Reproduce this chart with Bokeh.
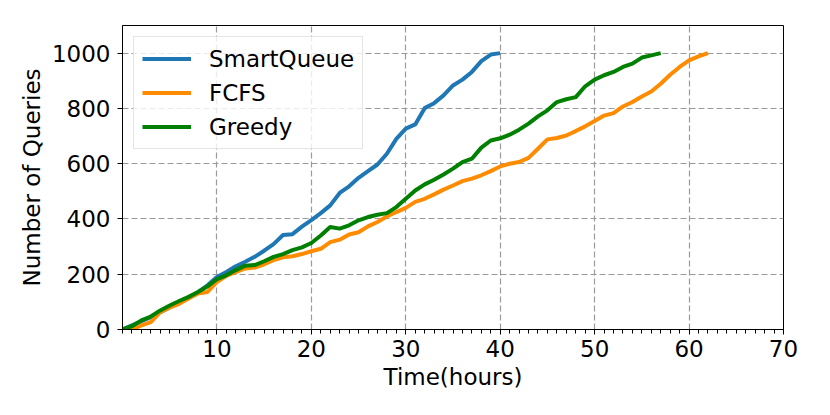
from bokeh.plotting import figure
from bokeh.models import Range1d, FixedTicker, Legend, LegendItem
from bokeh.embed import file_html
from bokeh.resources import INLINE

# ---- data ----
smart_hours = list(range(0, 41))
smart_queries = [0, 15, 30, 45, 63, 80, 100, 115, 135, 160, 190, 208, 229, 245, 263, 285, 309, 342, 345, 372,
                 396, 421, 449, 494, 518, 549, 573, 597, 636, 690, 727, 742, 801, 819, 847, 883, 904, 932, 971, 995,
                 1000]
fcfs_hours = list(range(0, 63))
fcfs_queries = [0, 0, 15, 27, 63, 79, 93, 112, 130, 136, 172, 194, 208, 221, 224, 236, 251, 261, 265, 273,
                283, 292, 316, 325, 344, 352, 373, 389, 409, 425, 440, 462, 473, 489, 506, 521, 537, 546, 558, 573,
                590, 600, 606, 621, 654, 688, 693, 702, 718, 735, 754, 774, 783, 807, 823, 843, 861, 889, 922, 950,
                974, 988, 1000]
greedy_hours = list(range(0, 58))
greedy_queries = [0, 12, 33, 47, 69, 87, 103, 118, 136, 156, 182, 196, 215, 231, 233, 247, 263, 273, 287, 297,
                  313, 340, 371, 365, 377, 395, 407, 415, 421, 443, 473, 503, 525, 542, 561, 582, 606, 618, 658, 684,
                  692, 705, 723, 745, 771, 793, 823, 833, 841, 880, 904, 920, 932, 950, 962, 984, 992, 1000]
series_names = ["SmartQueue", "FCFS", "Greedy"]
series_colors = ["#1f77b4", "#ff8c00", "#008000"]
x_ticks = [10, 20, 30, 40, 50, 60, 70]
x_minor = list(range(0, 71))
y_ticks = [0, 200, 400, 600, 800, 1000]

FONT = "DejaVu Sans"
FS = "23px"

W, H = 815, 405
p = figure(width=W, height=H, output_backend="svg", toolbar_location=None,
           x_range=Range1d(0, 70), y_range=Range1d(0, 1100),
           min_border_left=122, min_border_right=W - 783,
           min_border_top=25, min_border_bottom=H - 329)

renderers = []
for xs, ys, c in [(smart_hours, smart_queries, series_colors[0]),
                  (fcfs_hours, fcfs_queries, series_colors[1]),
                  (greedy_hours, greedy_queries, series_colors[2])]:
    r = p.line(xs, ys, line_color=c, line_width=4, line_join="round", line_cap="butt")
    renderers.append(r)

p.outline_line_color = "black"
p.outline_line_width = 1
p.background_fill_color = "white"
p.border_fill_color = "white"

p.xaxis.ticker = FixedTicker(ticks=x_ticks, minor_ticks=x_minor)
p.yaxis.ticker = FixedTicker(ticks=y_ticks)

for ax in (p.xaxis[0], p.yaxis[0]):
    ax.axis_line_color = "black"
    ax.axis_line_width = 1
    ax.major_tick_in = 0
    ax.major_tick_out = 5
    ax.major_tick_line_color = "black"
    ax.major_label_text_font = FONT
    ax.major_label_text_font_size = FS
    ax.major_label_text_color = "black"
    ax.axis_label_text_font = FONT
    ax.axis_label_text_font_size = FS
    ax.axis_label_text_font_style = "normal"
    ax.axis_label_text_color = "black"

p.xaxis.minor_tick_in = 0
p.xaxis.minor_tick_out = 4
p.xaxis.minor_tick_line_color = "black"
p.yaxis.minor_tick_line_color = None
p.xaxis.major_label_standoff = 5
p.yaxis.major_label_standoff = 7
p.xaxis.axis_label = "Time(hours)"
p.yaxis.axis_label = "Number of Queries"
p.xaxis.axis_label_standoff = 4
p.yaxis.axis_label_standoff = 4

for g in (p.xgrid[0], p.ygrid[0]):
    g.grid_line_color = "#9a9a9a"
    g.grid_line_width = 1.2
    g.grid_line_dash = "6 3"

legend = Legend(items=[LegendItem(label=n, renderers=[r]) for n, r in zip(series_names, renderers)],
                location="top_left")
legend.label_text_font = FONT
legend.label_text_font_size = FS
legend.label_text_color = "black"
legend.glyph_width = 49
legend.glyph_height = 27
legend.label_height = 27
legend.label_standoff = 18
legend.spacing = 7
legend.padding = 8
legend.margin = 11
legend.border_line_color = "#cccccc"
legend.border_line_width = 1
legend.background_fill_color = "white"
legend.background_fill_alpha = 0.8
p.add_layout(legend)

open("out.html", "w").write(file_html(p, INLINE))
